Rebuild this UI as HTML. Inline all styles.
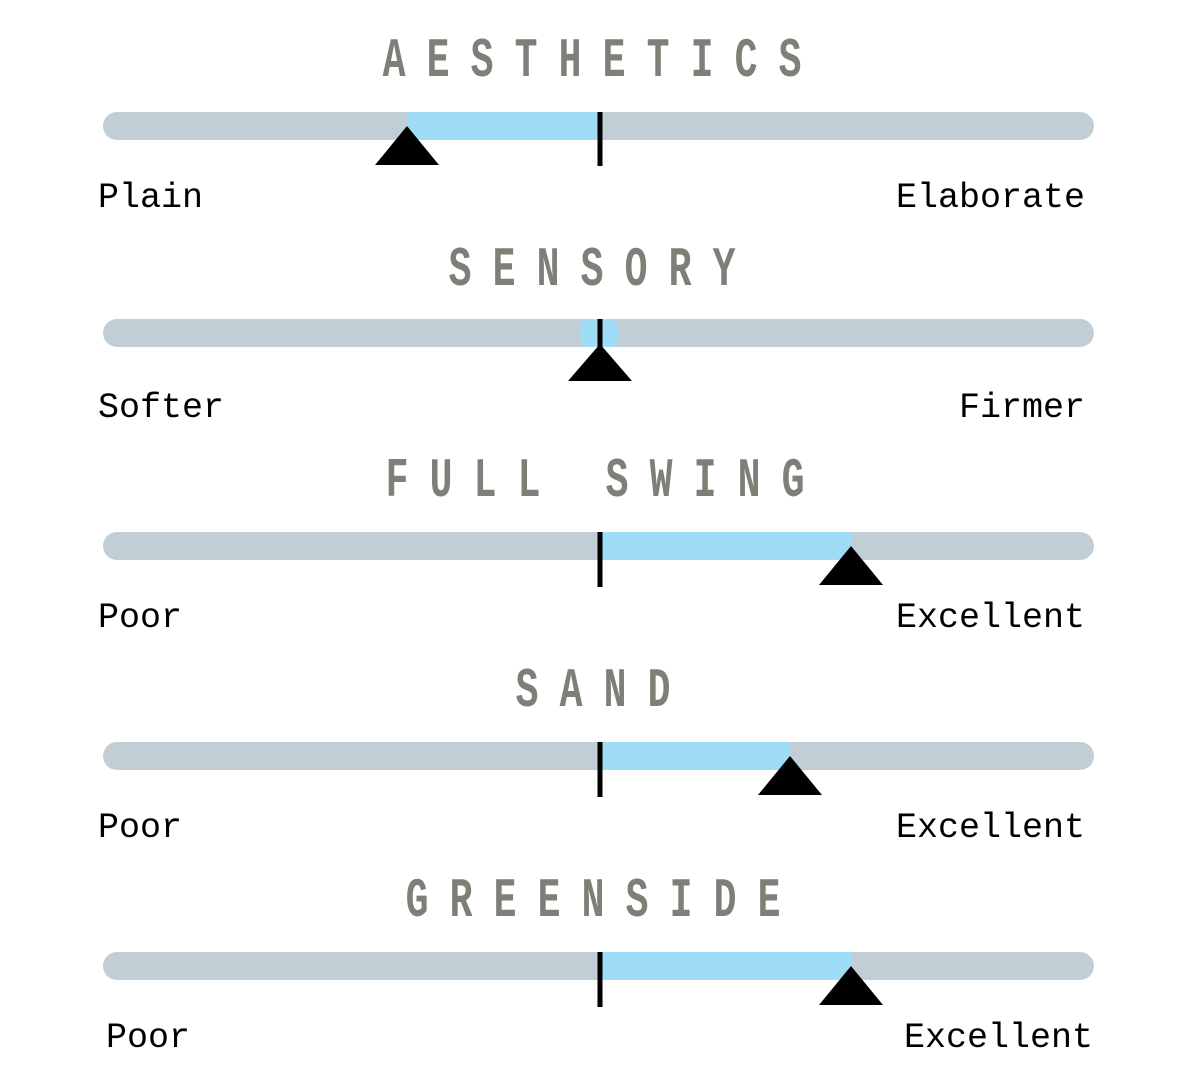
<!DOCTYPE html>
<html>
<head>
<meta charset="utf-8">
<style>
html,body{margin:0;padding:0;background:#fff;}
svg{display:block;}
.t{font-family:"Liberation Mono",monospace;font-weight:bold;font-size:56px;fill:#7f7f77;}
.l{font-family:"Liberation Mono",monospace;font-size:35px;fill:#000;}
</style>
</head>
<body>
<svg width="1200" height="1085" viewBox="0 0 1200 1085" xmlns="http://www.w3.org/2000/svg">
<defs>
<clipPath id="trk2"><rect x="103" y="319" width="991" height="28" rx="14"/></clipPath>
</defs>

<!-- Row 1: AESTHETICS -->
<g class="t" text-anchor="middle">
<text transform="translate(394,76) scale(0.68,1)">A</text>
<text transform="translate(438,76) scale(0.68,1)">E</text>
<text transform="translate(482,76) scale(0.68,1)">S</text>
<text transform="translate(526,76) scale(0.68,1)">T</text>
<text transform="translate(570,76) scale(0.68,1)">H</text>
<text transform="translate(614,76) scale(0.68,1)">E</text>
<text transform="translate(658,76) scale(0.68,1)">T</text>
<text transform="translate(702,76) scale(0.68,1)">I</text>
<text transform="translate(746,76) scale(0.68,1)">C</text>
<text transform="translate(790,76) scale(0.68,1)">S</text>
</g>
<rect x="103" y="112" width="991" height="28" rx="14" fill="#c2ced5"/>
<rect x="407" y="112" width="193" height="28" fill="#9fdcf5"/>
<rect x="597.5" y="112" width="5" height="54" fill="#000"/>
<polygon points="407,126 439,165 375,165" fill="#000"/>
<text class="l" x="98" y="207">Plain</text>
<text class="l" x="1085" y="207" text-anchor="end">Elaborate</text>

<!-- Row 2: SENSORY -->
<g class="t" text-anchor="middle">
<text transform="translate(460,285) scale(0.68,1)">S</text>
<text transform="translate(504,285) scale(0.68,1)">E</text>
<text transform="translate(548,285) scale(0.68,1)">N</text>
<text transform="translate(592,285) scale(0.68,1)">S</text>
<text transform="translate(636,285) scale(0.68,1)">O</text>
<text transform="translate(680,285) scale(0.68,1)">R</text>
<text transform="translate(724,285) scale(0.68,1)">Y</text>
</g>
<rect x="103" y="319" width="991" height="28" rx="14" fill="#c2ced5"/>
<circle cx="599" cy="333" r="20" fill="#9fdcf5" clip-path="url(#trk2)"/>
<rect x="597.5" y="319" width="5" height="30" fill="#000"/>
<polygon points="600,344 632,381 568,381" fill="#000"/>
<text class="l" x="98" y="417">Softer</text>
<text class="l" x="1085" y="417" text-anchor="end">Firmer</text>

<!-- Row 3: FULL SWING -->
<g class="t" text-anchor="middle">
<text transform="translate(397,496) scale(0.68,1)">F</text>
<text transform="translate(441,496) scale(0.68,1)">U</text>
<text transform="translate(485,496) scale(0.68,1)">L</text>
<text transform="translate(529,496) scale(0.68,1)">L</text>
<text transform="translate(617,496) scale(0.68,1)">S</text>
<text transform="translate(661,496) scale(0.68,1)">W</text>
<text transform="translate(705,496) scale(0.68,1)">I</text>
<text transform="translate(749,496) scale(0.68,1)">N</text>
<text transform="translate(793,496) scale(0.68,1)">G</text>
</g>
<rect x="103" y="532" width="991" height="28" rx="14" fill="#c2ced5"/>
<rect x="600" y="532" width="251" height="28" fill="#9fdcf5"/>
<rect x="597.5" y="532" width="5" height="55" fill="#000"/>
<polygon points="851,546 883,585 819,585" fill="#000"/>
<text class="l" x="98" y="627">Poor</text>
<text class="l" x="1085" y="627" text-anchor="end">Excellent</text>

<!-- Row 4: SAND -->
<g class="t" text-anchor="middle">
<text transform="translate(527,706) scale(0.68,1)">S</text>
<text transform="translate(571,706) scale(0.68,1)">A</text>
<text transform="translate(615,706) scale(0.68,1)">N</text>
<text transform="translate(659,706) scale(0.68,1)">D</text>
</g>
<rect x="103" y="742" width="991" height="28" rx="14" fill="#c2ced5"/>
<rect x="600" y="742" width="190" height="28" fill="#9fdcf5"/>
<rect x="597.5" y="742" width="5" height="55" fill="#000"/>
<polygon points="790,756 822,795 758,795" fill="#000"/>
<text class="l" x="98" y="837">Poor</text>
<text class="l" x="1085" y="837" text-anchor="end">Excellent</text>

<!-- Row 5: GREENSIDE -->
<g class="t" text-anchor="middle">
<text transform="translate(417,916) scale(0.68,1)">G</text>
<text transform="translate(461,916) scale(0.68,1)">R</text>
<text transform="translate(505,916) scale(0.68,1)">E</text>
<text transform="translate(549,916) scale(0.68,1)">E</text>
<text transform="translate(593,916) scale(0.68,1)">N</text>
<text transform="translate(637,916) scale(0.68,1)">S</text>
<text transform="translate(681,916) scale(0.68,1)">I</text>
<text transform="translate(725,916) scale(0.68,1)">D</text>
<text transform="translate(769,916) scale(0.68,1)">E</text>
</g>
<rect x="103" y="952" width="991" height="28" rx="14" fill="#c2ced5"/>
<rect x="600" y="952" width="251" height="28" fill="#9fdcf5"/>
<rect x="597.5" y="952" width="5" height="55" fill="#000"/>
<polygon points="851,966 883,1005 819,1005" fill="#000"/>
<text class="l" x="106" y="1047">Poor</text>
<text class="l" x="1093" y="1047" text-anchor="end">Excellent</text>
</svg>
</body>
</html>
